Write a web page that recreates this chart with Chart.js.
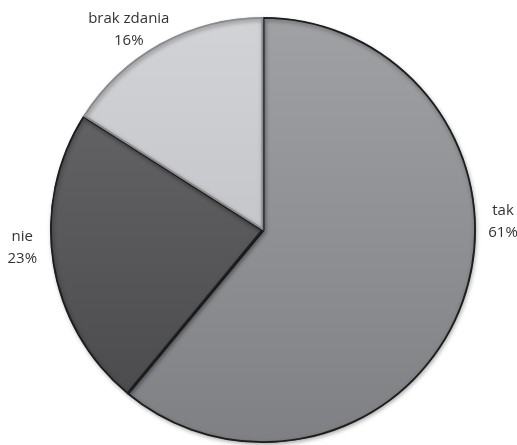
<!DOCTYPE html>
<html>
<head>
<meta charset="utf-8">
<script src="https://cdn.jsdelivr.net/npm/chart.js@4/dist/chart.umd.min.js"></script>
<style>
html,body{margin:0;padding:0;background:#fff;}
#wrap{width:517px;height:445px;position:relative;}
</style>
</head>
<body>
<div id="wrap"><canvas id="c" width="517" height="445"></canvas></div>
<script>
const categories = ["tak", "nie", "brak zdania"];
const values = [61, 23, 16];
const percentLabels = ["61%", "23%", "16%"];
const sliceColorsTop = ["#a0a1a5", "#6a6a6d", "#d2d3d7"];
const sliceColorsBottom = ["#7f8084", "#48484a", "#b9babe"];

function makeGradient(ctx, area, i) {
  if (!area) return sliceColorsTop[i];
  const g = ctx.createLinearGradient(0, area.top, 0, area.bottom);
  g.addColorStop(0, sliceColorsTop[i]);
  g.addColorStop(1, sliceColorsBottom[i]);
  return g;
}

const labelPlugin = {
  id: 'outerLabels',
  afterDatasetsDraw(chart) {
    const meta = chart.getDatasetMeta(0);
    const ctx = chart.ctx;
    const arc0 = meta.data[0];
    const cx = arc0.x, cy = arc0.y, r = arc0.outerRadius;
    // label offsets relative to pie center, in radius units
    const offs = [[1.127, -0.04], [-1.13, 0.085], [-0.63, -0.94]];
    ctx.save();
    ctx.font = '15px "Open Sans"';
    ctx.fillStyle = '#333333';
    ctx.textAlign = 'center';
    ctx.textBaseline = 'middle';
    categories.forEach((c, i) => {
      const x = cx + offs[i][0] * r;
      const y = cy + offs[i][1] * r;
      ctx.fillText(c, x, y - 11);
      ctx.fillText(percentLabels[i], x, y + 11);
    });
    ctx.restore();
  }
};

const shadowPlugin = {
  id: 'shadow',
  beforeDatasetsDraw(chart) {
    const ctx = chart.ctx;
    ctx.save();
    ctx.shadowColor = 'rgba(0,0,0,0.35)';
    ctx.shadowBlur = 4;
    ctx.shadowOffsetX = 1;
    ctx.shadowOffsetY = 2;
  },
  afterDatasetsDraw(chart) {
    chart.ctx.restore();
  }
};

new Chart(document.getElementById('c'), {
  type: 'pie',
  data: {
    labels: categories,
    datasets: [{
      data: values,
      backgroundColor: (context) => makeGradient(context.chart.ctx, context.chart.chartArea, context.dataIndex),
      borderColor: ['#1e1e1e', '#1e1e1e', '#8a8a8c'],
      borderWidth: 1.5,
      borderAlign: 'inner'
    }]
  },
  options: {
    responsive: false,
    animation: false,
    rotation: 0,
    layout: { padding: { top: 17, bottom: 2, left: 50, right: 41 } },
    plugins: {
      legend: { display: false },
      tooltip: { enabled: false }
    }
  },
  plugins: [shadowPlugin, labelPlugin]
});
</script>
</body>
</html>
